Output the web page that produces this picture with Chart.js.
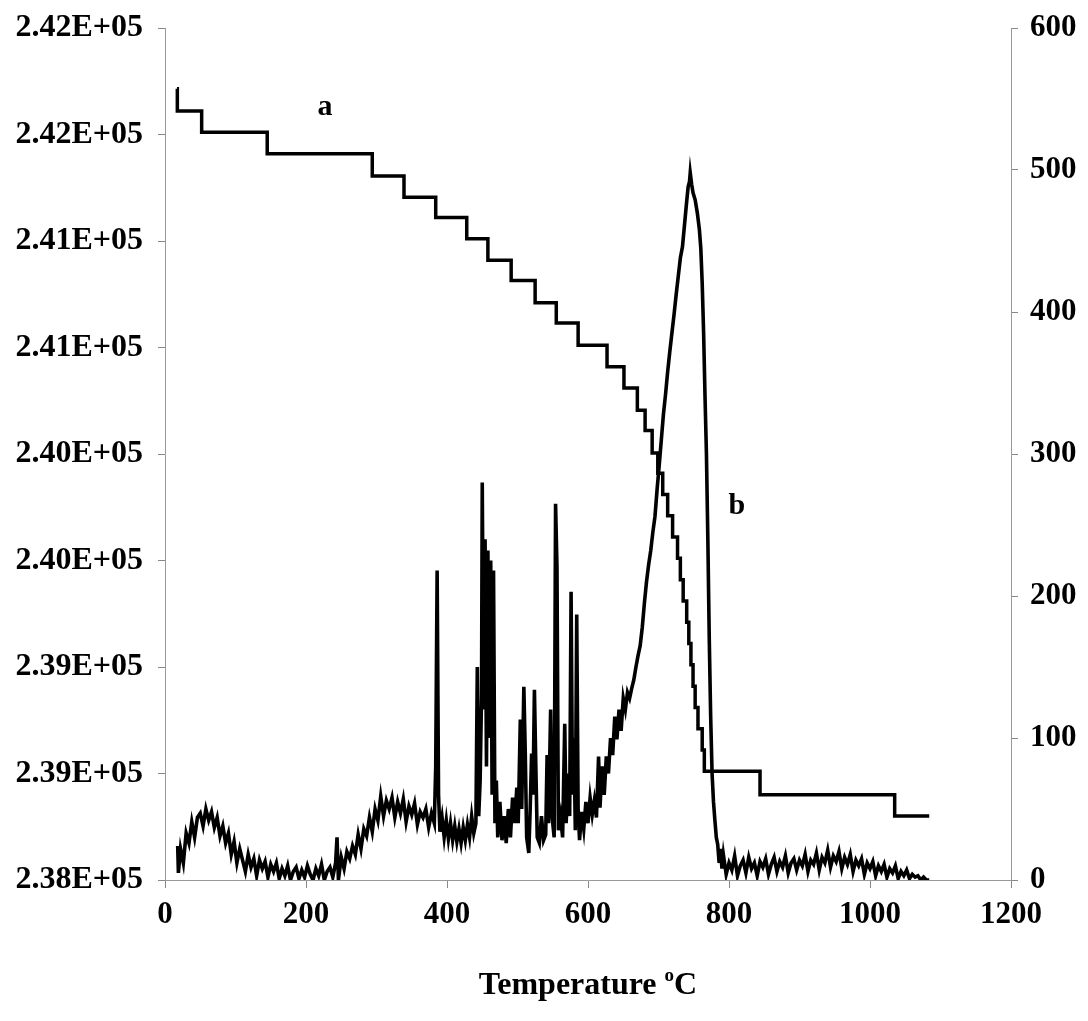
<!DOCTYPE html>
<html>
<head>
<meta charset="utf-8">
<script src="https://cdn.jsdelivr.net/npm/chart.js@4.4.0/dist/chart.umd.min.js"></script>
<style>
html,body{margin:0;padding:0;background:#fff;}
#wrap{position:relative;width:1088px;height:1021px;}
#c{position:absolute;left:0;top:0;}
#xtitle{position:absolute;left:165px;width:846px;top:964px;text-align:center;font:bold 32px "Liberation Serif", "Times New Roman", serif;color:#000;line-height:38px;}
#xtitle sup{font-size:19px;vertical-align:13px;line-height:0;}
</style>
</head>
<body>
<div id="wrap">
<canvas id="c" width="1088" height="1021"></canvas>
<div id="xtitle">Temperature <sup>o</sup>C</div>
</div>
<script>
// ---- Series a : mass (left axis), stepped ----
const aTemp = [17, 17.5, 52, 145, 294, 339, 384, 428, 458, 491,
  525, 555, 586, 627, 651, 670, 681, 691, 699, 706,
  713, 720, 727, 731, 735, 740, 743, 746, 749, 752,
  756, 762, 765, 844, 1035, 1084];
const aMass = [241715, 241610, 241510, 241410, 241305, 241205, 241110, 241010, 240910, 240815,
  240710, 240615, 240510, 240410, 240310, 240205, 240110, 240005, 239910, 239810,
  239710, 239610, 239510, 239410, 239310, 239210, 239110, 239010, 238910, 238810,
  238710, 238610, 238510, 238400, 238300, 238300];

// ---- Series b : signal (right axis) ----
const bTemp = [
  18, 19, 22, 26, 30, 34, 38, 42, 46, 50,
  54, 58, 62, 66, 70, 74, 78, 82, 86, 90,
  94, 98, 102, 106, 110, 114, 118, 122, 126, 130,
  134, 138, 142, 146, 150, 154, 158, 162, 166, 170,
  174, 178, 182, 186, 190, 194, 198, 202, 206, 210,
  214, 218, 222, 226, 230, 234, 238, 242, 244, 246,
  250, 254, 258, 262, 266, 270, 274, 278, 282, 286,
  290, 294, 298, 302, 306, 310, 314, 318, 322, 326,
  330, 334, 338, 342, 346, 350, 354, 358, 362, 366,
  370, 374, 378, 382, 384, 386, 388, 390, 393, 396,
  399, 402, 405, 408, 411, 414, 417, 420, 423, 426,
  429, 432, 435, 438, 441, 443, 445, 447, 449, 450,
  452, 454, 456, 458, 460, 462, 464, 466, 468, 470,
  472, 475, 478, 481, 484, 487, 490, 493, 496, 499,
  501, 504, 506, 509, 511, 513, 516, 518, 520, 522,
  524, 526, 528, 531, 534, 537, 540, 542, 544, 547,
  549, 552, 554, 556, 558, 561, 564, 567, 569, 572,
  574, 576, 578, 580, 582, 584, 586, 588, 591, 594,
  597, 600, 603, 606, 609, 612, 615, 617, 620, 623,
  626, 629, 632, 635, 638, 641, 644, 647, 650, 653,
  656, 659, 662, 665, 668, 671, 674, 677, 680, 683,
  686, 689, 692, 695, 698, 701, 704, 707, 710, 713,
  716, 719, 722, 725, 728, 731, 734, 737, 740, 742,
  744, 745, 747, 749, 752, 755, 758, 760, 762, 764,
  766, 768, 770, 772, 774, 776, 778, 780, 782, 784,
  786, 788, 790, 792, 796, 800, 804, 808, 812, 816,
  820, 824, 828, 832, 836, 840, 844, 848, 852, 856,
  860, 864, 868, 872, 876, 880, 884, 888, 892, 896,
  900, 904, 908, 912, 916, 920, 924, 928, 932, 936,
  940, 944, 948, 952, 956, 960, 964, 968, 972, 976,
  980, 984, 988, 992, 996, 1000, 1004, 1008, 1012, 1016,
  1020, 1024, 1028, 1032, 1036, 1040, 1044, 1048, 1052, 1056,
  1060, 1064, 1068, 1072, 1076, 1080, 1084];
const bSignal = [
  24, 5, 22, 12, 33, 26, 41, 30, 44, 47,
  38, 50, 42, 48, 37, 44, 31, 38, 26, 33,
  18, 27, 12, 22, 14, 6, 18, 9, 15, 3,
  14, 8, 13, 2, 11, 6, 12, 1, 8, 3,
  10, 0, 6, 9, 1, 7, 2, 10, 4, 0,
  8, 3, 11, 0, 6, 9, 2, 12, 30, 0,
  16, 8, 20, 15, 24, 18, 32, 22, 36, 31,
  44, 34, 50, 42, 59, 45, 56, 50, 58, 44,
  55, 47, 57, 41, 52, 46, 54, 39, 48, 44,
  50, 37, 47, 40, 80, 218, 60, 34, 44, 30,
  42, 29, 40, 28, 38, 27, 36, 26, 37, 28,
  39, 30, 45, 33, 40, 150, 45, 70, 130, 280,
  120, 240, 80, 232, 100, 225, 60, 218, 40, 70,
  30, 55, 28, 45, 26, 50, 30, 58, 40, 65,
  40, 113, 50, 136, 90, 30, 19, 50, 89, 60,
  134, 80, 30, 26, 45, 28, 32, 88, 40, 120,
  45, 30, 265, 220, 35, 45, 30, 110, 40, 75,
  45, 203, 60, 100, 35, 187, 50, 28, 48, 36,
  55, 40, 58, 46, 56, 44, 87, 51, 80, 60,
  87, 75, 100, 88, 115, 99, 120, 105, 128, 120,
  132, 128, 135, 141, 150, 158, 165, 178, 195, 210,
  222, 232, 245, 256, 275, 292, 310, 328, 342, 358,
  372, 385, 398, 412, 425, 438, 446, 462, 478, 488,
  492, 498, 490, 484, 479, 470, 458, 445, 420, 385,
  340, 300, 240, 170, 115, 75, 55, 42, 30, 25,
  12, 22, 8, 18, 4, 12, 7, 17, 3, 10,
  14, 5, 16, 8, 12, 3, 13, 9, 15, 4,
  11, 16, 6, 13, 9, 17, 5, 12, 15, 7,
  14, 10, 18, 6, 14, 11, 19, 7, 16, 12,
  21, 9, 17, 13, 20, 8, 16, 11, 18, 6,
  14, 10, 15, 4, 12, 8, 13, 3, 10, 6,
  11, 2, 8, 5, 10, 1, 6, 3, 7, 1,
  4, 2, 3, 0, 2, 0, 0];

// ---- Annotations ----
const labelText = ['a', 'b'];
const labelTemp = [227, 811];
const labelSignal = [544, 263];

const FONT = 'Liberation Serif';

const annotate = {
  id: 'annotate',
  afterDatasetsDraw(chart) {
    const ctx = chart.ctx, xs = chart.scales.x, ys = chart.scales.y1;
    ctx.save();
    ctx.font = 'bold 30px "' + FONT + '"';
    ctx.fillStyle = '#000';
    ctx.textAlign = 'center';
    ctx.textBaseline = 'middle';
    labelText.forEach((t, i) => {
      ctx.fillText(t, xs.getPixelForValue(labelTemp[i]), ys.getPixelForValue(labelSignal[i]));
    });
    ctx.restore();
  }
};

const tickFont = {family: FONT, size: 31, weight: 'bold'};
const leftFont = {family: FONT, size: 32, weight: 'bold'};

new Chart(document.getElementById('c'), {
  type: 'line',
  data: {
    datasets: [
      {
        label: 'a',
        data: aTemp.map((t, i) => ({x: t, y: aMass[i]})),
        yAxisID: 'y',
        stepped: 'before',
        borderColor: '#000',
        borderWidth: 3.5,
        pointRadius: 0,
        fill: false
      },
      {
        label: 'b',
        data: bTemp.map((t, i) => ({x: t, y: bSignal[i]})),
        yAxisID: 'y1',
        borderColor: '#000',
        borderWidth: 3.6,
        pointRadius: 0,
        tension: 0,
        fill: false
      }
    ]
  },
  options: {
    responsive: false,
    animation: false,
    devicePixelRatio: 1,
    layout: {padding: {top: 28, left: 0, right: 0, bottom: 0}},
    plugins: {legend: {display: false}, tooltip: {enabled: false}},
    scales: {
      x: {
        type: 'linear', position: 'bottom', min: 0, max: 1200,
        ticks: {stepSize: 200, font: tickFont, color: '#000', padding: 8, maxRotation: 0, autoSkip: false,
          callback: v => String(v)},
        grid: {display: true, drawOnChartArea: false, drawTicks: true, tickLength: 8, color: '#888'},
        border: {display: true, color: '#999', width: 1},
        afterFit(s) { s.height = 141; s.paddingLeft = 0; s.paddingRight = 0; }
      },
      y: {
        type: 'linear', position: 'left', min: 238000, max: 242000,
        ticks: {stepSize: 500, font: leftFont, color: '#000', padding: 15,
          callback: v => (Math.round(v / 1000) / 100).toFixed(2) + 'E+05'},
        grid: {display: true, drawOnChartArea: false, drawTicks: true, tickLength: 7, color: '#888'},
        border: {display: true, color: '#999', width: 1},
        afterFit(s) { s.width = 165; s.paddingTop = 0; s.paddingBottom = 0; }
      },
      y1: {
        type: 'linear', position: 'right', min: 0, max: 600,
        ticks: {stepSize: 100, font: tickFont, color: '#000', padding: 12},
        grid: {display: true, drawOnChartArea: false, drawTicks: true, tickLength: 7, color: '#888'},
        border: {display: true, color: '#999', width: 1},
        afterFit(s) { s.width = 77; s.paddingTop = 0; s.paddingBottom = 0; }
      }
    }
  },
  plugins: [annotate]
});
</script>
</body>
</html>
